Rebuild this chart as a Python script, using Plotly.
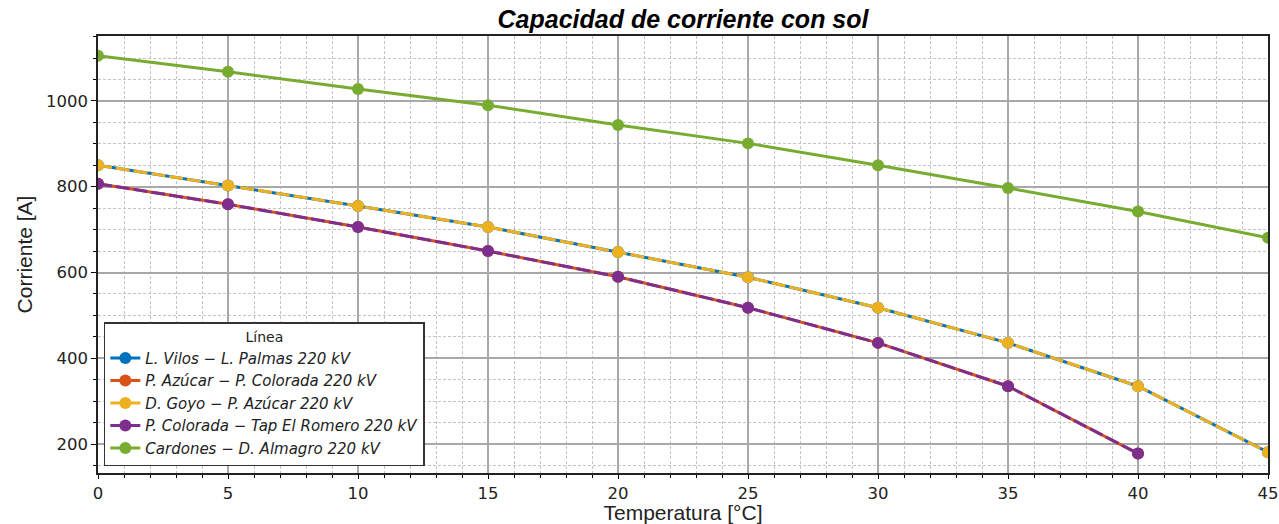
import plotly.graph_objects as go

# Temperature steps [°C]
temperatura = [0, 5, 10, 15, 20, 25, 30, 35, 40, 45]

# Ampacity [A] for each line
vilos_palmas = [850, 803, 755, 706, 648, 589, 518, 436, 335, 181]
azucar_colorada = [807, 759, 706, 650, 590, 518, 436, 335, 178]
goyo_azucar = [850, 803, 755, 706, 648, 589, 518, 436, 335, 181]
colorada_romero = [807, 759, 706, 650, 590, 518, 436, 335, 178]
cardones_almagro = [1105, 1068, 1028, 990, 944, 901, 850, 797, 742, 681]

nombres = [
    "L. Vilos − L. Palmas 220 kV",
    "P. Azúcar − P. Colorada 220 kV",
    "D. Goyo − P. Azúcar 220 kV",
    "P. Colorada − Tap El Romero 220 kV",
    "Cardones − D. Almagro 220 kV",
]
colores = ["#0072BD", "#D95319", "#EDB120", "#7E2F8E", "#77AC30"]
series = [vilos_palmas, azucar_colorada, goyo_azucar, colorada_romero, cardones_almagro]
estilos = ["solid", "solid", "14px,4px", "14px,4px", "solid"]

fig = go.Figure()
for nombre, color, valores, dash in zip(nombres, colores, series, estilos):
    fig.add_trace(go.Scatter(
        x=temperatura[:len(valores)],
        y=valores,
        name=nombre,
        mode="lines+markers",
        line=dict(color=color, width=3, dash=dash),
        marker=dict(color=color, size=12),
    ))

tick_font = dict(family="DejaVu Sans", size=16.5, color="#222222")
label_font = dict(family="Liberation Sans", size=21, color="#222222")

fig.update_layout(
    width=1279,
    height=524,
    margin=dict(l=98, r=11, t=36, b=51),
    paper_bgcolor="white",
    plot_bgcolor="white",
    title=dict(
        text="Capacidad de corriente con sol",
        x=(98 + 1268) / 2 / 1279,
        xanchor="center",
        y=1 - 19 / 524,
        yanchor="middle",
        font=dict(family="Liberation Sans", size=25, color="black",
                  weight="bold", style="italic"),
    ),
    legend=dict(
        x=0.005,
        y=0.016,
        xanchor="left",
        yanchor="bottom",
        bgcolor="white",
        bordercolor="#333333",
        borderwidth=1.5,
        font=dict(family="DejaVu Sans", size=15, color="#222222", style="italic"),
        title=dict(text="Línea", side="top center",
                   font=dict(family="DejaVu Sans", size=14, color="#222222",
                             style="normal")),
        itemwidth=30,
        tracegroupgap=0,
    ),
    showlegend=True,
)

fig.update_xaxes(
    range=[0, 45],
    tick0=0,
    dtick=5,
    automargin=False,
    ticks="outside",
    ticklen=4,
    tickcolor="black",
    tickfont=tick_font,
    showgrid=True,
    gridcolor="#a8a8a8",
    gridwidth=1.5,
    showline=True,
    linecolor="#222222",
    linewidth=1.5,
    mirror=True,
    zeroline=False,
    minor=dict(dtick=1, showgrid=True, gridcolor="#c4c4c4", griddash="3px,2px",
               gridwidth=1, ticks="outside", ticklen=3, tickcolor="black"),
    title=dict(text="Temperatura [°C]", standoff=3, font=label_font),
)

fig.update_yaxes(
    range=[132.7, 1151.3],
    tick0=0,
    dtick=200,
    automargin=False,
    ticks="outside",
    ticklen=5,
    tickcolor="black",
    tickfont=tick_font,
    showgrid=True,
    gridcolor="#a8a8a8",
    gridwidth=1.5,
    showline=True,
    linecolor="#222222",
    linewidth=1.5,
    mirror=True,
    zeroline=False,
    minor=dict(dtick=50, showgrid=True, gridcolor="#c4c4c4", griddash="3px,2px",
               gridwidth=1, ticks="outside", ticklen=3, tickcolor="black"),
    title=dict(text="Corriente [A]", standoff=8, font=label_font),
)

fig.write_html("out.html")
